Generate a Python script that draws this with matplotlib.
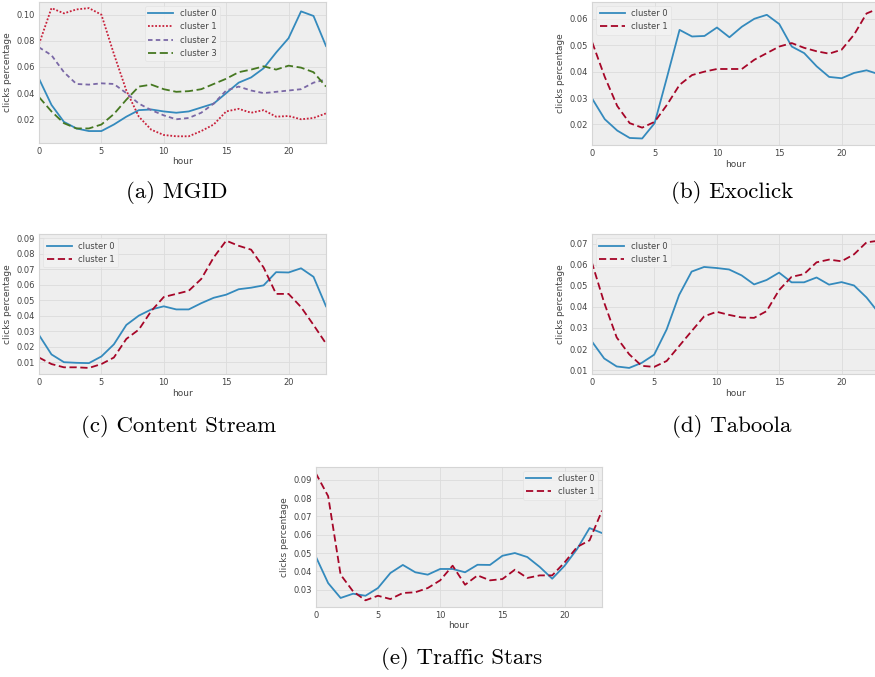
import matplotlib
matplotlib.use("Agg")
import matplotlib.pyplot as plt

hours = list(range(24))

# (a) MGID
mgid_c0 = [0.051, 0.031, 0.018, 0.013, 0.011, 0.011, 0.016, 0.022, 0.027, 0.0275, 0.026, 0.025,
           0.026, 0.029, 0.032, 0.040, 0.048, 0.052, 0.059, 0.071, 0.082, 0.1025, 0.099, 0.076]
mgid_c1 = [0.0775, 0.105, 0.101, 0.104, 0.105, 0.100, 0.070, 0.042, 0.022, 0.012, 0.008, 0.007,
           0.007, 0.011, 0.016, 0.026, 0.028, 0.025, 0.027, 0.022, 0.0225, 0.020, 0.021, 0.0245]
mgid_c2 = [0.075, 0.069, 0.056, 0.047, 0.0465, 0.0475, 0.047, 0.040, 0.032, 0.027, 0.023, 0.020,
           0.021, 0.025, 0.032, 0.042, 0.045, 0.042, 0.040, 0.041, 0.042, 0.043, 0.048, 0.0505]
mgid_c3 = [0.037, 0.026, 0.017, 0.013, 0.013, 0.016, 0.024, 0.035, 0.045, 0.0465, 0.043, 0.041,
           0.0415, 0.043, 0.047, 0.051, 0.056, 0.058, 0.0605, 0.058, 0.061, 0.0595, 0.056, 0.045]

# (b) Exoclick
exo_c0 = [0.0297, 0.022, 0.0177, 0.0149, 0.0147, 0.0205, 0.038, 0.0558, 0.0533, 0.0535, 0.0567, 0.053,
          0.057, 0.060, 0.0615, 0.058, 0.0495, 0.047, 0.042, 0.038, 0.0375, 0.0395, 0.0405, 0.039]
exo_c1 = [0.051, 0.038, 0.027, 0.0205, 0.0188, 0.021, 0.0275, 0.035, 0.0387, 0.040, 0.041, 0.041,
          0.041, 0.0445, 0.047, 0.0495, 0.0508, 0.049, 0.0477, 0.0468, 0.0483, 0.054, 0.062, 0.064]

# (c) Content Stream
cs_c0 = [0.0275, 0.015, 0.010, 0.0096, 0.0094, 0.0137, 0.0215, 0.034, 0.040, 0.044, 0.046, 0.044,
         0.044, 0.048, 0.0515, 0.0535, 0.057, 0.058, 0.0595, 0.068, 0.0678, 0.0705, 0.065, 0.046]
cs_c1 = [0.013, 0.0088, 0.0067, 0.0067, 0.0063, 0.0088, 0.013, 0.025, 0.031, 0.043, 0.052, 0.054,
         0.056, 0.0636, 0.0775, 0.0883, 0.085, 0.0825, 0.071, 0.054, 0.054, 0.0455, 0.034, 0.022]

# (d) Taboola
tab_c0 = [0.0237, 0.0155, 0.0117, 0.011, 0.0134, 0.0173, 0.0293, 0.0457, 0.0568, 0.059, 0.0585, 0.0578,
          0.055, 0.0507, 0.0528, 0.0563, 0.0517, 0.0517, 0.054, 0.0506, 0.0518, 0.0502, 0.0445, 0.037]
tab_c1 = [0.0614, 0.042, 0.0255, 0.0175, 0.012, 0.0115, 0.0143, 0.0214, 0.0285, 0.0355, 0.0377, 0.0362,
          0.035, 0.0348, 0.038, 0.048, 0.0543, 0.0556, 0.0612, 0.0625, 0.0617, 0.065, 0.0707, 0.0715]

# (e) Traffic Stars
ts_c0 = [0.0482, 0.0336, 0.0255, 0.0278, 0.0267, 0.0309, 0.0391, 0.0435, 0.0395, 0.0382, 0.0413, 0.0413,
         0.0395, 0.0436, 0.0435, 0.0485, 0.050, 0.0478, 0.0424, 0.036, 0.0431, 0.0522, 0.0636, 0.0609]
ts_c1 = [0.0936, 0.081, 0.0382, 0.0291, 0.0242, 0.0267, 0.0249, 0.0282, 0.0286, 0.0309, 0.0351, 0.0431,
         0.0327, 0.0378, 0.0351, 0.0358, 0.0409, 0.0364, 0.0378, 0.0378, 0.0449, 0.0533, 0.0569, 0.0731]

captions = ["(a) MGID", "(b) Exoclick", "(c) Content Stream", "(d) Taboola", "(e) Traffic Stars"]

BLUE, RED, PURPLE, GREEN = "#348ABD", "#A60628", "#7A68A6", "#467821"

W, H = 875, 677
fig = plt.figure(figsize=(W / 100, H / 100), dpi=100)


def make_ax(left, top, right, bottom):
    ax = fig.add_axes([left / W, 1 - bottom / H, (right - left) / W, (bottom - top) / H])
    ax.set_facecolor("#eeeeee")
    for s in ax.spines.values():
        s.set_color("#d5d5d5")
        s.set_linewidth(0.8)
    ax.grid(True, color="#dcdcdc", linewidth=0.6)
    ax.set_axisbelow(True)
    ax.tick_params(length=0, labelsize=6, colors="#444444", pad=3)
    ax.set_xlabel("hour", fontsize=6.5, color="#444444", labelpad=1)
    ax.set_ylabel("clicks percentage", fontsize=6.5, color="#444444", labelpad=3)
    ax.set_xlim(0, 23)
    ax.set_xticks([0, 5, 10, 15, 20])
    return ax


def legend(ax, loc):
    leg = ax.legend(loc=loc, fontsize=6, frameon=True, fancybox=True,
                    handlelength=3, labelcolor="#444444")
    leg.get_frame().set_facecolor("#f2f2f2")
    leg.get_frame().set_edgecolor("#e2e2e2")
    leg.get_frame().set_linewidth(0.6)


def caption(x, y, text):
    fig.text(x / W, 1 - y / H, text, ha="center", va="center", fontsize=16.5,
             family="cmr10")


lw = 1.3

# (a)
ax = make_ax(39, 1.7, 326, 142.7)
ax.plot(hours, mgid_c0, color=BLUE, lw=lw, label="cluster 0")
ax.plot(hours, mgid_c1, color="#C8203A", lw=lw, linestyle=(0, (1, 1)), label="cluster 1")
ax.plot(hours, mgid_c2, color=PURPLE, lw=lw, linestyle=(0, (2.5, 1.8)), label="cluster 2")
ax.plot(hours, mgid_c3, color=GREEN, lw=lw, linestyle=(0, (4.5, 2)), label="cluster 3")
ax.set_yticks([0.02, 0.04, 0.06, 0.08, 0.10])
legend(ax, "upper center")
caption(177, 193, captions[0])

# (b)
ax = make_ax(592.3, 1.7, 879, 145)
ax.plot(hours, exo_c0, color=BLUE, lw=lw, label="cluster 0")
ax.plot(hours, exo_c1, color=RED, lw=lw, linestyle=(0, (4, 2)), label="cluster 1")
legend(ax, "upper left")
caption(732, 193, captions[1])

# (c)
ax = make_ax(39, 234.3, 326, 374.3)
ax.plot(hours, cs_c0, color=BLUE, lw=lw, label="cluster 0")
ax.plot(hours, cs_c1, color=RED, lw=lw, linestyle=(0, (4, 2)), label="cluster 1")
ax.set_yticks([0.01, 0.02, 0.03, 0.04, 0.05, 0.06, 0.07, 0.08, 0.09])
legend(ax, "upper left")
caption(178.5, 427, captions[2])

# (d)
ax = make_ax(591.7, 234.3, 879, 374.3)
ax.plot(hours, tab_c0, color=BLUE, lw=lw, label="cluster 0")
ax.plot(hours, tab_c1, color=RED, lw=lw, linestyle=(0, (4, 2)), label="cluster 1")
legend(ax, "upper left")
caption(731.5, 427, captions[3])

# (e)
ax = make_ax(315.7, 466.7, 602, 606.7)
ax.plot(hours, ts_c0, color=BLUE, lw=lw, label="cluster 0")
ax.plot(hours, ts_c1, color=RED, lw=lw, linestyle=(0, (4, 2)), label="cluster 1")
legend(ax, "upper right")
caption(462, 659, captions[4])

fig.savefig("out.png", dpi=100)
